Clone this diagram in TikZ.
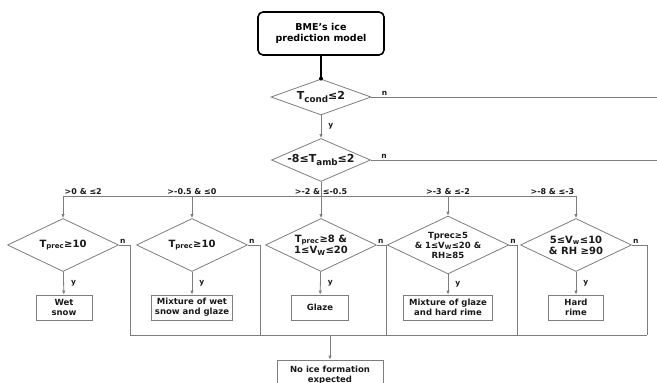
\documentclass[tikz,border=0pt]{standalone}
\usepackage{fontspec}
\setmainfont{DejaVu Sans}
\usetikzlibrary{shapes.geometric,arrows.meta}
\definecolor{linegray}{RGB}{125,125,125}
\definecolor{inkgray}{RGB}{25,25,25}
\newcommand{\lowtxt}[1]{\raisebox{-0.45ex}{\scalebox{0.8}{#1}}}
\tikzset{
  line/.style={draw=linegray, line width=0.8pt},
  arr/.style={line, -{Latex[length=4pt,width=3.5pt]}},
  test/.style={diamond, draw=linegray, line width=0.8pt, inner sep=0pt, aspect=2.1,
    minimum width=111pt, minimum height=53pt, align=center, text=inkgray,
    font=\fontsize{10}{11}\selectfont\bfseries},
  result/.style={rectangle, draw=linegray, line width=0.8pt, minimum height=25pt,
    inner sep=2pt, align=center, text=inkgray,
    font=\fontsize{8.5}{10}\selectfont\bfseries},
  lbl/.style={font=\fontsize{7.5}{8}\selectfont\bfseries, text=inkgray, inner sep=1pt},
  rangelbl/.style={lbl, font=\fontsize{8}{9}\selectfont\bfseries, inner sep=1.5pt},
}

\begin{document}
\begin{tikzpicture}[x=1pt,y=-1pt]
      \useasboundingbox (0,0) rectangle (657,383);

      \node[draw=black, line width=1.6pt, rounded corners=5pt, minimum width=126pt,
        minimum height=43pt, align=center, font=\fontsize{9.5}{11}\selectfont\bfseries]
        (start) at (321,33.5) {BME's ice\\prediction model};

      \node[test, minimum width=100pt, minimum height=36pt, font=\fontsize{11}{12}\selectfont\bfseries]
        (cond) at (321,97) {T\lowtxt{cond}≤2};
      \node[test, minimum width=99pt, minimum height=37pt, font=\fontsize{11}{12}\selectfont\bfseries]
        (amb) at (321,160) {-8≤T\lowtxt{amb}≤2};

      \draw[line width=1.6pt] (start) -- (cond.north);
      \fill (cond.north) circle (2pt);
      \draw[arr] (cond) -- node[lbl, right=6pt] {y} (amb);

      \coordinate (edge) at (657,0);
      \draw[line] (cond.east) -- (cond.east -| edge) node[lbl, above right, pos=0, xshift=9pt] {n};
      \draw[line] (amb.east) -- (amb.east -| edge) node[lbl, above right, pos=0, xshift=9pt] {n};

      % second row of tests
      \node[test] (tw) at (63,245) {T\textsubscript{prec}≥10};
      \node[test] (tm) at (192,245) {T\textsubscript{prec}≥10};
      \node[test] (tg) at (321,245) {T\textsubscript{prec}≥8 \&\\1≤V\textsubscript{W}≤20};
      \node[test, font=\fontsize{8.5}{10}\selectfont\bfseries] (tr) at (448,245)
        {Tprec≥5\\\& 1≤V\textsubscript{W}≤20 \&\\RH≥85};
      \node[test] (th) at (576,245) {5≤V\textsubscript{w}≤10\\\& RH ≥90};

      \coordinate (bus) at (0,196);
      \draw[arr] (amb.south) -- (tg.north);
      \draw[line] (bus -| tw.north) -- (bus -| th.north);
      \foreach \t in {tw,tm,tr,th}
        \draw[arr] (bus -| \t.north) -- (\t.north);

      \node[rangelbl, above right] at (bus -| tw.north) {>0 \& ≤2};
      \node[rangelbl, above] at (bus -| tm.north) {>-0.5 \& ≤0};
      \node[rangelbl, above] at (bus -| tg.north) {>-2 \& ≤-0.5};
      \node[rangelbl, above] at (bus -| tr.north) {>-3 \& ≤-2};
      \node[rangelbl, above left] at (bus -| th.north) {>-8 \& ≤-3};

      % outcomes
      \node[result, minimum width=56pt] (wet) at (64,307.5) {Wet\\snow};
      \node[result, minimum width=81pt] (mix) at (192,307.5) {Mixture of wet\\snow and glaze};
      \node[result, minimum width=57pt] (glaze) at (320,307.5) {Glaze};
      \node[result, minimum width=89pt] (mixrime) at (448,307.5) {Mixture of glaze\\and hard rime};
      \node[result, minimum width=55pt] (hard) at (576,307.5) {Hard\\rime};

      \draw[arr] (tw) -- node[lbl, right=6pt] {y} (wet);
      \draw[arr] (tm) -- node[lbl, right=6pt] {y} (mix);
      \draw[arr] (tg) -- node[lbl, right=6pt] {y} (glaze);
      \draw[arr] (tr) -- node[lbl, right=6pt] {y} (mixrime);
      \draw[arr] (th) -- node[lbl, right=6pt] {y} (hard);

      % no branches
      \coordinate (low) at (0,335);
      \coordinate (nw) at (130,0);
      \coordinate (nm) at (260,0);
      \coordinate (ng) at (386,0);
      \coordinate (nr) at (517,0);
      \coordinate (nh) at (647,0);
      \draw[line] (tw.east) -| (nw |- low);
      \draw[line] (tm.east) -| (nm |- low);
      \draw[line] (tg.east) -| (ng |- low);
      \draw[line] (tr.east) -| (nr |- low);
      \draw[line] (th.east) -| (nh |- low);
      \foreach \t in {tw,tm,tg,tr,th}
        \node[lbl, above right] at (\t.east) {n};
      \draw[line] (nw |- low) -- (nh |- low);

      \node[result, minimum width=106pt, minimum height=30pt] (noice) at (330,375)
        {No ice formation\\expected};
      \draw[arr] (noice.north |- low) -- (noice.north);
    \end{tikzpicture}
\end{document}
